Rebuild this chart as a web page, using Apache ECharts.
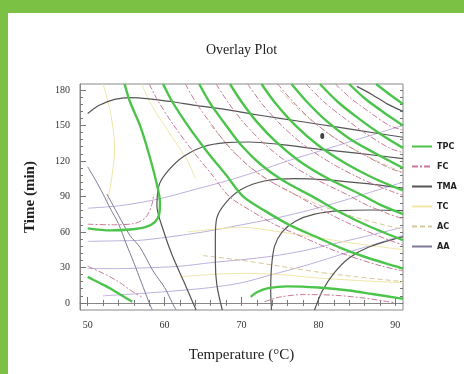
<!DOCTYPE html>
<html>
<head>
<meta charset="utf-8">
<script src="https://cdn.jsdelivr.net/npm/echarts@6/dist/echarts.min.js"></script>
<style>
html,body{margin:0;padding:0;background:#7bc143;width:464px;height:374px;overflow:hidden;}
#chart{position:absolute;left:8px;top:13px;width:456px;height:361px;background:#fff;}
</style>
</head>
<body>
<div id="chart"></div>
<script>
// axis ticks
var xLabels = [50, 60, 70, 80, 90];
var xMinor = [50,52,54,56,58,60,62,64,66,68,70,72,74,76,78,80,82,84,86,88,90];
var yLabels = [0, 30, 60, 90, 120, 150, 180];
var yMinor = [0,6,12,18,24,30,36,42,48,54,60,66,72,78,84,90,96,102,108,114,120,126,132,138,144,150,156,162,168,174,180];

// TPC contours (green)
var tpcLines = [
    [[54.8,185],[55.5,170],[56.8,150],[58,125],[59,100],[59.4,85],[59.3,75],[58.7,68],[57.5,64],[55.5,62],[53,61.3],[50,63]],
    [[59.8,185],[61,170],[63,150],[65.5,128],[68,108],[70.2,90],[73,78],[76.2,66],[80,55],[82.7,47],[86,39],[90,31],[91,29]],
    [[64.5,185],[66,168],[68,150],[70,133],[72.5,117],[75.5,103],[79.2,90],[83,76],[86.5,65],[91,53]],
    [[68.5,185],[70,170],[72,153],[74.5,136],[77.5,120],[81,106],[85.7,91],[88,83],[91,75]],
    [[72.6,185],[74.5,168],[77,150],[80,133],[83.5,118],[87,106],[91,95]],
    [[76.5,185],[78.5,170],[81,154],[84,139],[87.5,126],[91,114]],
    [[80.2,185],[82.5,170],[85,157],[88,143],[91,131]],
    [[84,185],[86,173],[88.5,161],[91,150]],
    [[87.5,185],[89.5,175],[91,168]],
    [[71.2,5],[72,9],[73.5,12.5],[76,14],[80,13],[84,10.5],[87,7.5],[90,4.5],[91,3.5]],
    [[50,22],[51.5,17],[53,12],[54.5,6],[55.8,1]]
];

// FC contours (pink dash)
var fcLines = [
    [[50,66.5],[53,66],[56,67],[57.5,72],[58.3,82],[58.6,92]],
    [[50,31],[52,25],[54,18],[55.5,11],[57,5]],
    [[73,1],[75,5],[78,7],[82,6.5],[86,4],[90,0]],
    [[58,185],[59.2,170],[61.2,150],[63.7,128],[66.2,108],[68.4,90],[71.2,78],[74.4,66],[78.2,55],[81,47],[84.3,39],[88.3,31],[91,27]],
    [[62.7,185],[64.2,168],[66.2,150],[68.2,133],[70.7,117],[73.7,103],[77.4,90],[81.2,76],[84.7,65],[89.2,53],[91,49]],
    [[66.7,185],[68.2,170],[70.2,153],[72.7,136],[75.7,120],[79.2,106],[83.9,91],[86.2,83],[89.2,75],[91,71]],
    [[70.8,185],[72.7,168],[75.2,150],[78.2,133],[81.7,118],[85.2,106],[89.2,95],[91,91]],
    [[74.7,185],[76.7,170],[79.2,154],[82.2,139],[85.7,126],[89.2,114],[91,110]],
    [[78.4,185],[80.7,170],[83.2,157],[86.2,143],[89.2,131],[91,127]],
    [[82.2,185],[84.2,173],[86.7,161],[89.2,150],[91,146]]
];

// TMA contours (dark grey)
var tmaLines = [
    [[50,160],[51.5,167],[53.5,172],[55.5,173.5],[58,172.5],[61,170],[64,167],[67.5,164],[71,160],[75,156],[80,151],[85,146],[91,140]],
    [[64.1,-6],[62.5,18],[61,40],[59.8,62],[59,82],[59.3,100],[60.5,112],[62.5,124],[65,132],[68,135.5],[71,136],[75,134],[80,130],[85,126.5],[91,122]],
    [[67.5,-6],[66.8,15],[66.6,35],[66.6,55],[66.8,72],[68,85],[70,96],[73,103],[77,105],[81,104],[86,101],[91,97]],
    [[73.9,-6],[73.8,10],[73.9,30],[74.3,48],[75.3,60],[77,69],[79.5,75],[83,78],[87,78.5],[91,78]],
    [[79.5,-6],[80.5,10],[82,25],[84,38],[86.5,47],[91,56]],
    [[85,183],[87,176],[89,168],[91,162]]
];

// TC contours (pale yellow)
var tcLines = [
    [[52,185],[53,160],[53.5,130],[53,100],[52.5,85]],
    [[57,185],[58.5,165],[61,140],[63,120],[64,105]],
    [[63,60],[66,62],[70,64],[75,60],[80,55],[85,50],[91,45]],
    [[62,22],[66,24],[70,25],[75,24],[80,21],[85,19],[91,17]]
];

// AC contours (tan dash)
var acLines = [
    [[66,150],[69,128],[72,110],[76,95],[80,83],[85,72],[91,62]],
    [[75,180],[78,160],[82,140],[86,125],[91,110]],
    [[65,40],[70,36],[75,31],[80,26],[85,22],[91,18]]
];

// AA contours (grey-violet)
var aaLines = [
    [[50,115],[51,104],[52,92],[53,79],[54,67],[55,50],[56,34],[57,17],[58,0],[58.4,-6]],
    [[52.5,92],[54,74],[55.5,57],[56.8,47],[58.5,27],[60,13],[61,0],[61.5,-6]]
];
var aaPaleLines = [
    [[50,80],[54,82],[57,85],[60,89],[64,96],[68,103],[72,111],[76,120],[80,128],[85,138],[91,150]],
    [[50,52],[54,52.5],[57,53],[62,57],[66,61],[70,66],[74,71],[78,77],[82,84],[86,92],[91,102]],
    [[50,29],[54,29],[57,29.5],[62,31],[66,34],[70,36.5],[74,39.5],[78,44],[82,50],[86,56],[91,64]],
    [[52,6],[57,8],[62,10.5],[66,13],[70,17],[74,24],[78,31],[82,39],[86,47],[91,57]]
];

var optimum = [[80.5,141]];

function contour(name, lines, color, width, type, z){
    return lines.map(function(pts){
        return {
            name: name, type: 'line', data: pts, symbol: 'none', smooth: 0.3,
            color: color, z: z, silent: true,
            lineStyle: {color: color, width: width, type: type}
        };
    });
}

var series = [].concat(
    contour('AA', aaLines, '#7c7a98', 1, 'solid', 2),
    contour('AA', aaPaleLines, '#bcb0dc', 1, 'solid', 1),
    contour('TC', tcLines, '#efe6a8', 1, 'solid', 1),
    contour('AC', acLines, '#d6c79a', 1, [5,3], 2),
    contour('TMA', tmaLines, '#555555', 1.2, 'solid', 3),
    contour('FC', fcLines, '#c9799a', 1, [6,2,2,2], 3),
    contour('TPC', tpcLines, '#4cc44c', 2.4, 'solid', 4)
);
series.push({
    type: 'scatter', data: optimum, symbol: 'circle', symbolSize: [4,6],
    itemStyle: {color: '#111'}, z: 6, silent: true
});

var serif = "'Liberation Serif', 'DejaVu Serif', serif";
var tickStyle = {color: '#777', width: 1};

var option = {
    animation: false,
    title: {
        text: 'Overlay Plot', left: 193, top: 25,
        textStyle: {fontFamily: serif, fontSize: 14, fontWeight: 'normal', color: '#222'}
    },
    legend: {
        orient: 'vertical', left: 398, top: 124,
        data: ['TPC', 'FC', 'TMA', 'TC', 'AC', 'AA'],
        itemWidth: 20, itemHeight: 10, itemGap: 11,
        itemStyle: {opacity: 0},
        textStyle: {fontFamily: "'Liberation Sans Narrow', 'DejaVu Sans Condensed', sans-serif", fontSize: 9, fontWeight: 'bold', color: '#222'}
    },
    grid: {
        left: 72, top: 71, right: 61, bottom: 64,
        show: true, borderColor: '#888', borderWidth: 1
    },
    xAxis: [
        {
            type: 'value', min: 49, max: 91, position: 'bottom',
            name: 'Temperature (°C)', nameLocation: 'middle', nameGap: 38,
            nameTextStyle: {fontFamily: serif, fontSize: 15, color: '#222'},
            axisLine: {show: true, lineStyle: {color: '#888'}},
            axisTick: {inside: true, length: 6, customValues: xLabels, lineStyle: tickStyle},
            axisLabel: {customValues: xLabels, fontFamily: serif, fontSize: 10, color: '#333', margin: 10},
            splitLine: {show: false}
        },
        {
            type: 'value', min: 49, max: 91, position: 'bottom',
            axisLine: {show: false},
            axisTick: {inside: true, length: 3, customValues: xMinor, lineStyle: tickStyle},
            axisLabel: {show: false}, splitLine: {show: false}
        },
        {
            type: 'value', min: 49, max: 91, position: 'top',
            axisLine: {show: false},
            axisTick: {inside: true, length: 3, customValues: xMinor, lineStyle: tickStyle},
            axisLabel: {show: false}, splitLine: {show: false}
        }
    ],
    yAxis: [
        {
            type: 'value', min: -6, max: 185, position: 'left',
            name: 'Time (min)', nameLocation: 'middle', nameGap: 42,
            nameTextStyle: {fontFamily: serif, fontSize: 15, fontWeight: 'bold', color: '#222'},
            axisLine: {show: true, lineStyle: {color: '#888'}},
            axisTick: {inside: true, length: 6, customValues: yLabels, lineStyle: tickStyle},
            axisLabel: {customValues: yLabels, fontFamily: serif, fontSize: 10, color: '#333', margin: 10},
            splitLine: {show: false}
        },
        {
            type: 'value', min: -6, max: 185, position: 'left',
            axisLine: {show: false},
            axisTick: {inside: true, length: 3, customValues: yMinor, lineStyle: tickStyle},
            axisLabel: {show: false}, splitLine: {show: false}
        },
        {
            type: 'value', min: -6, max: 185, position: 'right',
            axisLine: {show: false},
            axisTick: {inside: true, length: 3, customValues: yMinor, lineStyle: tickStyle},
            axisLabel: {show: false}, splitLine: {show: false}
        }
    ],
    series: series
};

var myChart = echarts.init(document.getElementById('chart'));
myChart.setOption(option);
</script>
</body>
</html>
